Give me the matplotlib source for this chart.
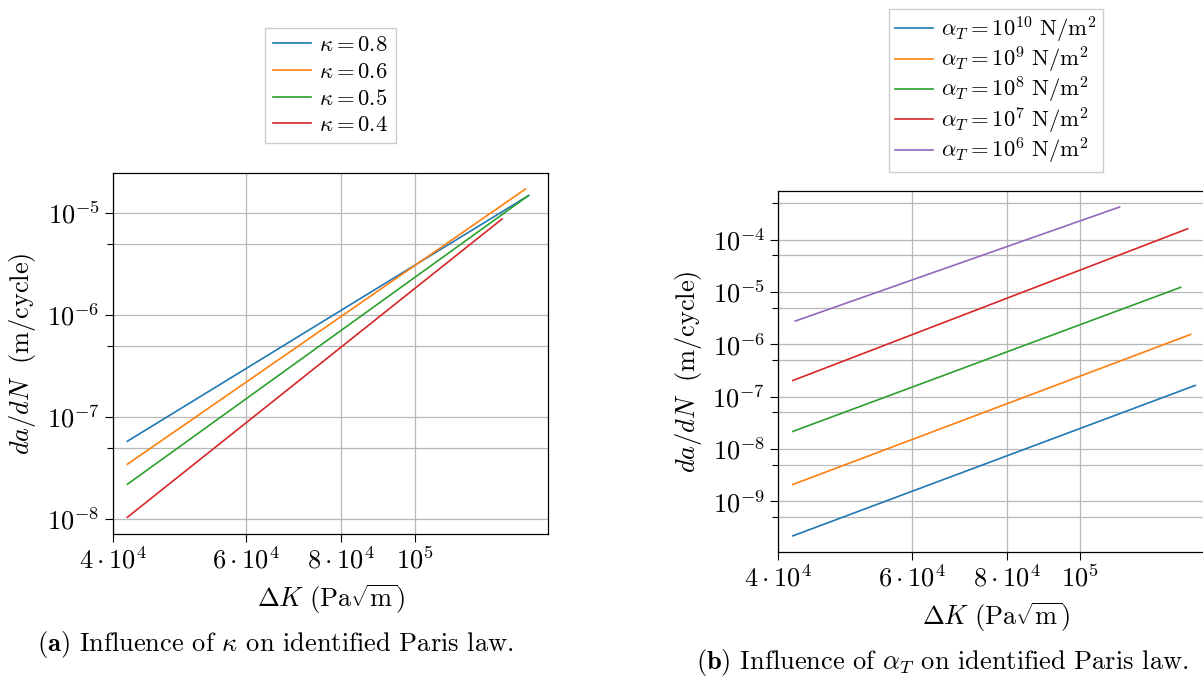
import math
import matplotlib
matplotlib.use("Agg")
import matplotlib.pyplot as plt
from matplotlib.ticker import FixedLocator, NullFormatter, LogLocator

plt.rcParams['font.family'] = 'serif'
plt.rcParams['font.serif'] = ['cmr10', 'DejaVu Serif']
plt.rcParams['mathtext.fontset'] = 'cm'
plt.rcParams['axes.unicode_minus'] = False

# ---- data ----
kappa_labels = [r'$\kappa = 0.8$', r'$\kappa = 0.6$', r'$\kappa = 0.5$', r'$\kappa = 0.4$']
kappa_dK = [[4.18e4, 1.414e5], [4.18e4, 1.40e5], [4.18e4, 1.41e5], [4.18e4, 1.304e5]]
kappa_rate = [[5.78e-8, 1.48e-5], [3.44e-8, 1.71e-5], [2.19e-8, 1.46e-5], [1.04e-8, 8.7e-6]]

alpha_labels = [r'$\alpha_T = 10^{10}\ \mathrm{N/m^2}$', r'$\alpha_T = 10^{9}\ \mathrm{N/m^2}$',
                r'$\alpha_T = 10^{8}\ \mathrm{N/m^2}$', r'$\alpha_T = 10^{7}\ \mathrm{N/m^2}$',
                r'$\alpha_T = 10^{6}\ \mathrm{N/m^2}$']
alpha_dK = [[4.18e4, 1.419e5], [4.18e4, 1.40e5], [4.18e4, 1.358e5], [4.18e4, 1.387e5], [4.21e4, 1.128e5]]
alpha_rate = [[2.19e-10, 1.64e-7], [2.1e-9, 1.55e-6], [2.17e-8, 1.23e-5], [2.04e-7, 1.62e-4], [2.79e-6, 4.22e-4]]

colors = ['#1f77b4', '#ff7f0e', '#2ca02c', '#d62728', '#9467bd']
xticks = [4e4, 6e4, 8e4, 1e5]
xticklabels = [r'$4\cdot10^{4}$', r'$6\cdot10^{4}$', r'$8\cdot10^{4}$', r'$10^{5}$']
left_yticks = [1e-8, 1e-7, 1e-6, 1e-5]
right_yticks = [1e-9, 1e-8, 1e-7, 1e-6, 1e-5, 1e-4]

W, H = 1203, 677
fig = plt.figure(figsize=(W / 100, H / 100), dpi=100)

def px_axes(x0, y0, x1, y1):
    return fig.add_axes([x0 / W, 1 - y1 / H, (x1 - x0) / W, (y1 - y0) / H])

FS = 19
LFS = 16.3

def style(ax, yticks, ylim):
    ax.set_xscale('log')
    ax.set_yscale('log')
    ax.set_xlim(4e4, 1.5e5)
    ax.set_ylim(*ylim)
    ax.xaxis.set_major_locator(FixedLocator(xticks))
    ax.xaxis.set_minor_locator(FixedLocator([]))
    ax.set_xticklabels(xticklabels)
    ax.yaxis.set_major_locator(FixedLocator(yticks))
    ax.set_yticklabels([r'$10^{%d}$' % round(math.log10(t)) for t in yticks])
    ax.yaxis.set_minor_locator(LogLocator(base=10, subs=[5.0], numticks=20))
    ax.yaxis.set_minor_formatter(NullFormatter())
    ax.grid(True, which='both', color='#b8b8b8', lw=0.9)
    ax.set_axisbelow(True)
    ax.tick_params(which='major', direction='out', length=5.5, width=0.8, labelsize=FS, pad=4)
    ax.tick_params(which='minor', direction='out', length=4, width=0.8)
    ax.tick_params(top=False, right=False)
    for s in ax.spines.values():
        s.set_linewidth(0.9)
    ax.set_xlabel(r'$\Delta K\ (\mathrm{Pa}\sqrt{\mathrm{m}})$', fontsize=FS, labelpad=6)
    ax.set_ylabel(r'$da/dN\ \ (\mathrm{m/cycle})$', fontsize=FS, labelpad=6)

leg_kw = dict(loc='lower center', fontsize=LFS, frameon=True, fancybox=False,
              edgecolor='#cccccc', framealpha=1, handlelength=1.7,
              handletextpad=0.35, borderaxespad=0.0)

ax1 = px_axes(112.9, 172.7, 548.2, 534)
for xs, ys, lab, c in zip(kappa_dK, kappa_rate, kappa_labels, colors):
    ax1.plot(xs, ys, color=c, lw=1.2, label=lab)
style(ax1, left_yticks, (7.13e-9, 2.47e-5))
leg1 = ax1.legend(bbox_to_anchor=(330.5 / W, 1 - 143.3 / H), bbox_transform=fig.transFigure,
                  labelspacing=0.3, borderpad=0.35, **leg_kw)

ax2 = px_axes(778.4, 190.7, 1213.4, 551.7)
for xs, ys, lab, c in zip(alpha_dK, alpha_rate, alpha_labels, colors):
    ax2.plot(xs, ys, color=c, lw=1.2, label=lab)
style(ax2, right_yticks, (1.09e-10, 8.65e-4))
leg2 = ax2.legend(bbox_to_anchor=(995.9 / W, 1 - 171.7 / H), bbox_transform=fig.transFigure,
                  labelspacing=0.0, borderpad=0.25, **leg_kw)

fig.text(275 / W, 1 - 645 / H, r'$\mathbf{(a)}$ Influence of $\kappa$ on identified Paris law.',
         ha='center', va='center', fontsize=FS)
fig.text(942 / W, 1 - 663 / H, r'$\mathbf{(b)}$ Influence of $\alpha_T$ on identified Paris law.',
         ha='center', va='center', fontsize=FS)

fig.savefig('out.png', dpi=100)
